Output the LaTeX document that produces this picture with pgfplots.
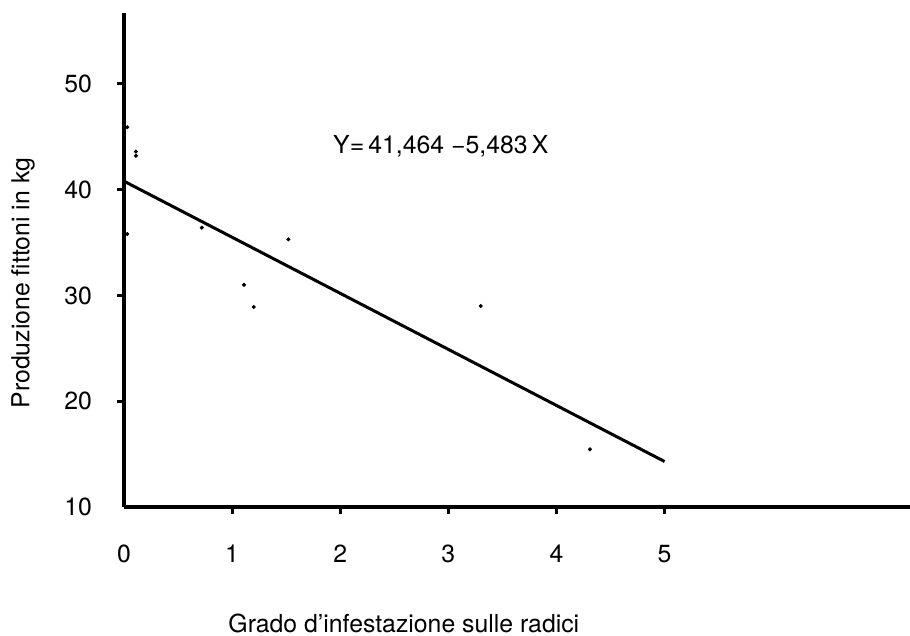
\documentclass[border=0pt]{standalone}
\usepackage{fontspec}
\setmainfont{TeX Gyre Heros}
\usepackage{pgfplots}
\pgfplotsset{compat=1.18}
\begin{document}
\begin{tikzpicture}
\begin{axis}[
  scale only axis, width=393pt, height=247pt,
  xmin=0, xmax=7.27, ymin=10, ymax=56.7,
  axis x line=bottom, axis y line=left,
  axis line style={-, line width=1.6pt},
  xtick={1,2,3,4,5}, ytick={20,30,40,50},
  extra x ticks={0}, extra y ticks={10},
  extra tick style={tick style={draw=none}},
  tick align=outside, major tick length=3.5pt,
  tick style={line width=1.4pt, black},
  font=\fontsize{12.4}{14}\selectfont,
  ticklabel style={font=\fontsize{12.4}{14}\selectfont},
  /pgf/number format/assume math mode=true,
  xticklabel style={yshift=-12pt},
  yticklabel style={xshift=-9pt},
  xlabel={Grado d’infestazione sulle radici},
  ylabel={Produzione fittoni in kg},
  xlabel style={at={(axis description cs:0.356,-0.235)}, anchor=center},
  ylabel style={at={(axis description cs:-0.1285,0.453)}, anchor=center},
  clip=false,
]
\addplot[only marks, mark=*, mark size=0.8pt, black] coordinates {
  (0.03,45.9) (0.03,35.8) (0.11,43.6) (0.11,43.2) (0.72,36.4) (1.11,31.0)
  (1.20,28.9) (1.52,35.3) (3.30,29.0) (4.31,15.45)
};
\addplot[black, line width=1.5pt] coordinates {(0,40.8) (5,14.3)};
\node[font=\fontsize{12.4}{14}\selectfont] at (axis cs:2.93,44.06) {Y=\,41,464 −5,483\,X};
\end{axis}
\pgfresetboundingbox
\path (-62pt,-64.5pt) rectangle (393pt,253.5pt);
\end{tikzpicture}
\end{document}
